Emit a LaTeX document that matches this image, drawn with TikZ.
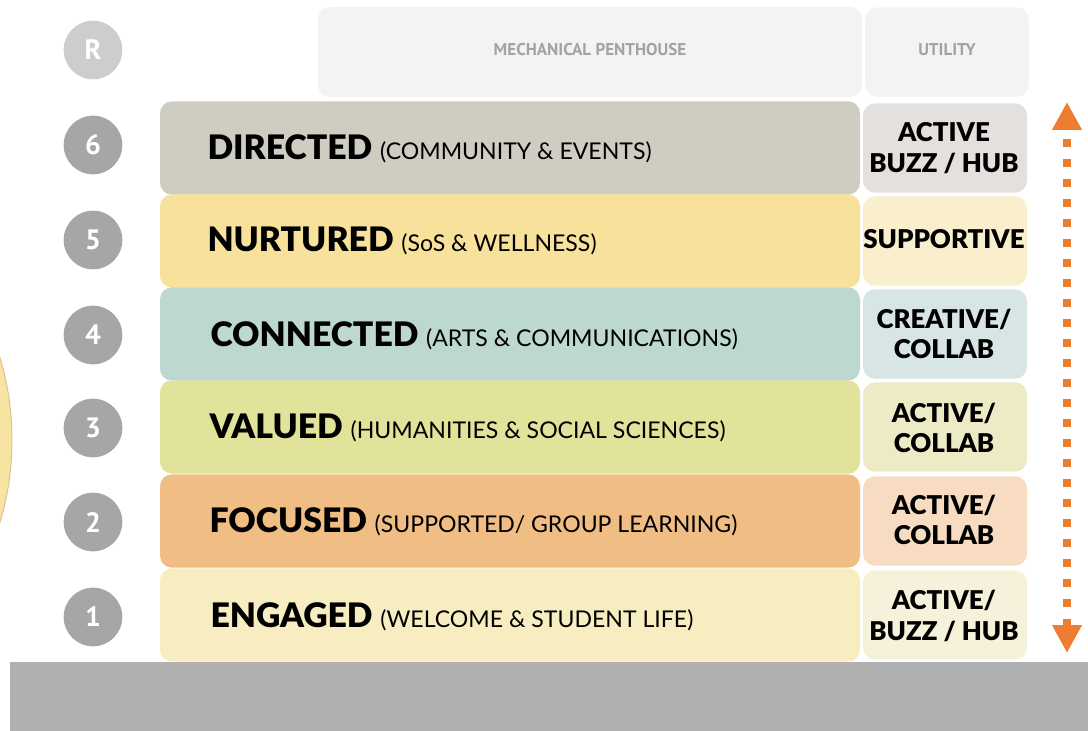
\documentclass[tikz,border=0pt]{standalone}
\usepackage{fontspec}
\setmainfont{Lato}
\newfontfamily\heavyfont{Lato Black}
\newfontfamily\numfont{PT Sans}
\usetikzlibrary{arrows.meta}

\definecolor{numgray}{HTML}{A6A6A6}
\definecolor{roofgray}{HTML}{CDCDCD}
\definecolor{penthouse}{HTML}{F3F3F3}
\definecolor{penttext}{HTML}{A3A3A3}
\definecolor{groundgray}{HTML}{B0B0B0}
\definecolor{sunyellow}{HTML}{F8E4A2}
\definecolor{sunedge}{HTML}{D9C58A}
\definecolor{arroworange}{HTML}{ED7D31}
\definecolor{dirfill}{HTML}{CFCCC1}
\definecolor{dirside}{HTML}{E3E0DE}
\definecolor{nurfill}{HTML}{F7E19B}
\definecolor{nurside}{HTML}{F9EFCC}
\definecolor{confill}{HTML}{BDD7D1}
\definecolor{conside}{HTML}{D7E5E4}
\definecolor{valfill}{HTML}{E2E39A}
\definecolor{valside}{HTML}{EDEBC6}
\definecolor{focfill}{HTML}{F0BD84}
\definecolor{focside}{HTML}{F7DCC1}
\definecolor{engfill}{HTML}{F8EDC1}
\definecolor{engside}{HTML}{F6F1DB}

\newcommand{\titlefont}{\heavyfont\fontsize{25.3}{29}\selectfont}
\newcommand{\subfont}{\normalfont\fontsize{17.3}{20}\selectfont}
\newcommand{\sidefont}{\heavyfont\fontsize{19.4}{23}\selectfont}

\tikzset{every picture/.style={line width=0.75pt}}
\tikzset{
  numdot/.style={circle, fill=numgray, minimum size=44pt, inner sep=0,
    text=white, font=\numfont\bfseries\fontsize{21}{24}\selectfont},
  rowbox/.style={rounded corners=9pt, minimum width=525pt, minimum height=70pt, inner sep=0},
  sidebox/.style={rounded corners=9pt, minimum width=123pt, minimum height=67pt, inner sep=0},
  rowtext/.style={anchor=west, inner sep=0.75pt, text=black},
  sidetext/.style={align=center, inner sep=0.75pt, text=black, font=\sidefont},
  rooftext/.style={text=penttext, font=\numfont\bfseries\fontsize{12.8}{15}\selectfont},
  updown/.style={arroworange, line width=6pt, dash pattern={on 6pt off 9pt},
    {Triangle[width=21pt,length=21pt]}-{Triangle[width=21pt,length=21pt]}}
}

\begin{document}
\begin{tikzpicture}[x=0.75pt,y=0.75pt,yscale=-1,xscale=1]
		\path[use as bounding box] (0,0) rectangle (1088,731);
		
		%Shape: Circle (cut by the page)
		\begin{scope}
			\clip (0,0) rectangle (1088,731);
			\draw [color=sunedge, fill=sunyellow] (-274,440) circle (286);
		\end{scope}
		
		%Shape: Rectangle (ground)
		\fill [groundgray] (10,662) rectangle (1088,731);
		
		% Roof
		\node [rounded corners=9pt, minimum width=408pt, minimum height=67.5pt, fill=penthouse] (pent) at (590,52) {};
		\node [sidebox, fill=penthouse] (util) at (947,52) {};
		\node [rooftext] (penttxt) at (590,50) {MECHANICAL PENTHOUSE};
		\node [rooftext] (utiltxt) at (947,50) {UTILITY};
		
		% Floor numbers
		\node [numdot, fill=roofgray] (nR) at (93,50) {R};
		\node [numdot] (n6) at (93,145) {6};
		\node [numdot] (n5) at (93,240) {5};
		\node [numdot] (n4) at (93,335) {4};
		\node [numdot] (n3) at (93,428) {3};
		\node [numdot] (n2) at (93,522) {2};
		\node [numdot] (n1) at (93,617) {1};
		
		% Floors
		\node [rowbox, fill=dirfill] (dir) at (510,148) {};
		\node [rowbox, fill=nurfill] (nur) at (510,241) {};
		\node [rowbox, fill=confill] (con) at (510,334) {};
		\node [rowbox, fill=valfill] (val) at (510,427) {};
		\node [rowbox, fill=focfill] (foc) at (510,521) {};
		\node [rowbox, fill=engfill] (eng) at (510,615) {};
		
		% Side spaces
		\node [sidebox, fill=dirside] (dirside) at (945,148) {};
		\node [sidebox, fill=nurside] (nurside) at (945,241) {};
		\node [sidebox, fill=conside] (conside) at (945,334) {};
		\node [sidebox, fill=valside] (valside) at (945,427) {};
		\node [sidebox, fill=focside] (focside) at (945,521) {};
		\node [sidebox, fill=engside] (engside) at (945,615) {};
		
		% Text Node
		\node [rowtext] (dirtxt) at (206,149) {\titlefont DIRECTED \subfont(COMMUNITY \& EVENTS)};
		% Text Node
		\node [rowtext] (nurtxt) at (206,241) {\titlefont NURTURED \subfont(SoS \& WELLNESS)};
		% Text Node
		\node [rowtext] (contxt) at (209,336) {\titlefont CONNECTED \subfont(ARTS \& COMMUNICATIONS)};
		% Text Node
		\node [rowtext] (valtxt) at (208,428) {\titlefont VALUED \subfont(HUMANITIES \& SOCIAL SCIENCES)};
		% Text Node
		\node [rowtext] (foctxt) at (208,522) {\titlefont FOCUSED \subfont(SUPPORTED/ GROUP LEARNING)};
		% Text Node
		\node [rowtext] (engtxt) at (209,617) {\titlefont ENGAGED \subfont(WELCOME \& STUDENT LIFE)};
		
		% Text Node
		\node [sidetext] (dirs) at (944,148) {ACTIVE\\BUZZ / HUB};
		\node [sidetext] (nurs) at (944,239) {SUPPORTIVE};
		\node [sidetext] (cons) at (944,334) {CREATIVE/\\COLLAB};
		\node [sidetext] (vals) at (944,428) {ACTIVE/\\COLLAB};
		\node [sidetext] (focs) at (944,520) {ACTIVE/\\COLLAB};
		\node [sidetext] (engs) at (944,616) {ACTIVE/\\BUZZ / HUB};
		
		% Arrow
		\coordinate (arrtop) at (1067,102);
		\coordinate (arrbot) at (1067,653);
		\draw [updown] (arrbot) -- (arrtop);
		
	\end{tikzpicture}
\end{document}
